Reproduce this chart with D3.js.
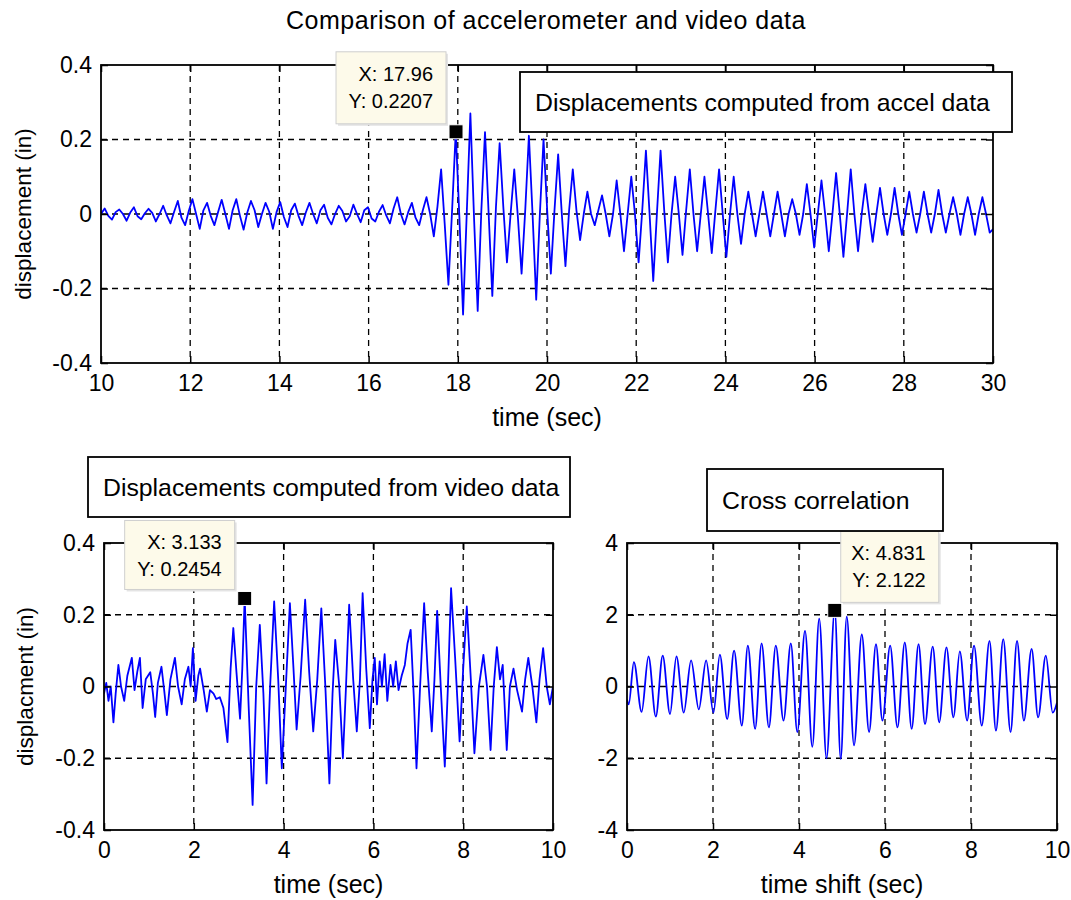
<!DOCTYPE html>
<html>
<head>
<meta charset="utf-8">
<script src="https://cdn.jsdelivr.net/npm/d3@7"></script>
<style>
  body { margin: 0; background: #fff; }
  text { font-family: Arial, "Liberation Sans", sans-serif; fill: #000; }
</style>
</head>
<body>
<svg id="fig" width="1071" height="900"></svg>
<script>
// accelerometer displacement, sampled every quarter cycle starting at t = 10 s
const accelStart = 10;
const accelStep = 0.082;
const accelDisp = [
  0,0.015,-0.005,-0.015, 0.005,0.012,0,-0.018, 0.004,0.018,-0.006,-0.014, 0.002,0.014,0.003,-0.02,
  0,0.022,-0.004,-0.025, 0.006,0.035,-0.01,-0.03, 0.008,0.04,0,-0.04, 0.01,0.03,-0.005,-0.03,
  0.005,0.038,0,-0.04, 0.01,0.04,-0.005,-0.042, 0.004,0.035,0.01,-0.035, 0,0.03,0.006,-0.04,
  0.005,0.032,-0.008,-0.035, 0.01,0.028,-0.005,-0.03, 0.004,0.03,0,-0.025, 0.01,0.025,-0.01,-0.028,
  0,0.022,0.008,-0.02, -0.006,0.025,0,-0.022, 0.01,0.018,-0.012,-0.02, 0.006,0.024,-0.004,-0.025,
  0.015,0.045,0,-0.028, 0.005,0.03,-0.01,-0.03, 0.01,0.045,0,-0.06, 0.02,0.12,-0.03,-0.19,
  0.01,0.2207,-0.01,-0.27, 0,0.27,-0.01,-0.26, 0.01,0.22,0,-0.22, 0.02,0.19,0.02,-0.13,
  0,0.12,-0.01,-0.16, 0.01,0.21,0,-0.23, 0,0.2,0.01,-0.16, 0.01,0.16,0,-0.14,
  0.01,0.12,0.01,-0.07, 0,0.06,0,-0.03, 0.01,0.05,0,-0.06, 0,0.09,0,-0.1,
  0,0.1,0,-0.13, 0.01,0.17,0,-0.18, 0,0.17,0.01,-0.13, 0,0.1,0,-0.11,
  0.01,0.12,0,-0.1, 0,0.1,0,-0.105, 0.01,0.12,0,-0.115, 0,0.1,0,-0.08,
  0,0.06,0,-0.06, 0,0.06,0,-0.06, 0,0.06,0,-0.06, 0,0.04,0,-0.056,
  0,0.08,0,-0.09, 0,0.09,0,-0.1, 0,0.11,0,-0.115, 0,0.12,0,-0.1,
  0,0.08,0,-0.075, 0,0.07,0,-0.056, 0,0.07,0,-0.056, 0,0.06,0,-0.05,
  0,0.06,0,-0.05, 0,0.065,0,-0.05, 0,0.045,0,-0.056, 0,0.045,0,-0.056,
  0,0.045,0,-0.05, -0.04
];

// video displacement
const videoTime = [
  0,0.05,0.1,0.15,0.21,0.26,0.32,0.38,0.45,0.52,0.62,0.68,0.74,0.8,0.86,0.93,1.03,1.09,1.14,1.2,
  1.28,1.34,1.4,1.48,1.58,1.65,1.73,1.8,1.88,1.93,1.98,2.04,2.1,2.14,2.22,2.29,2.36,2.44,2.5,2.58,
  2.66,2.75,2.82,2.88,2.95,3.03,3.08,3.133,3.22,3.31,3.39,3.47,3.55,3.62,3.7,3.79,3.88,3.96,4.05,4.14,
  4.22,4.29,4.38,4.48,4.57,4.66,4.75,4.84,4.93,5.02,5.09,5.15,5.24,5.32,5.39,5.46,5.55,5.63,5.7,5.76,
  5.84,5.92,5.98,6.03,6.08,6.14,6.19,6.25,6.31,6.38,6.44,6.5,6.56,6.63,6.7,6.76,6.83,6.9,6.96,7.04,
  7.13,7.21,7.3,7.36,7.42,7.5,7.59,7.66,7.73,7.82,7.92,8,8.08,8.17,8.25,8.35,8.45,8.53,8.61,8.68,
  8.75,8.82,8.88,8.97,9.04,9.12,9.2,9.31,9.38,9.45,9.54,9.63,9.7,9.78,9.86,9.93,10
];
const videoDisp = [
  -0.02,0.01,-0.04,0,-0.1,-0.02,0.06,0,-0.04,0.03,0.08,-0.01,0.04,0.08,-0.06,0.02,0.04,-0.02,-0.085,0.01,
  0.055,-0.01,-0.08,0.02,0.08,0,-0.05,0.02,0.055,0,0.107,-0.04,0.03,0.05,-0.01,-0.07,-0.01,-0.02,-0.035,-0.03,
  -0.06,-0.155,0.05,0.163,0.04,-0.09,0.05,0.2454,-0.05,-0.33,0,0.172,-0.02,-0.27,0,0.237,0.02,-0.228,0,0.232,
  0.05,-0.12,0.03,0.242,0.04,-0.125,0.02,0.218,0,-0.27,-0.02,0.13,0,-0.2,0,0.228,0.02,-0.125,0.02,0.26,
  0.05,-0.116,0.02,0.08,-0.05,0.07,0,0.09,-0.04,0.06,0,0.07,-0.01,0.03,0.06,0.12,0.158,-0.03,-0.228,0,
  0.232,0.04,-0.125,0.02,0.211,0,-0.223,0,0.274,0.08,-0.153,0.05,0.223,0.02,-0.186,0,0.088,0,-0.177,0,
  0.11,0.02,0.06,-0.177,0,0.05,-0.01,-0.07,0.02,0.08,0,-0.1,0.02,0.107,0,-0.05,0
];

// cross correlation
const corrTime = [
  0,0.04,0.16,0.34,0.5,0.67,0.83,1,1.15,1.32,1.49,1.67,1.84,2.01,2.16,2.33,2.49,2.67,2.81,2.98,
  3.13,3.3,3.46,3.64,3.81,3.96,4.14,4.31,4.47,4.64,4.831,4.97,5.11,5.28,5.46,5.63,5.79,5.94,6.12,6.29,
  6.46,6.62,6.78,6.93,7.11,7.26,7.43,7.59,7.74,7.91,8.07,8.25,8.43,8.58,8.75,8.92,9.07,9.23,9.41,9.56,
  9.74,9.9,10
];
const corrValue = [
  -0.36,-0.5,0.68,-0.71,0.84,-0.84,0.86,-0.77,0.84,-0.73,0.73,-0.64,0.73,-0.73,0.89,-0.91,1,-1.09,1.14,-1.18,
  1.2,-1.14,1.14,-0.95,1.2,-1.27,1.55,-1.68,1.89,-2,2.122,-2.02,1.95,-1.64,1.45,-1.27,1.18,-0.95,1.14,-1.14,
  1.23,-1.18,1.18,-1.05,1.11,-1,1.09,-0.86,0.98,-0.95,1.14,-1.09,1.27,-1.23,1.32,-1.27,1.27,-0.95,1.05,-0.86,
  0.86,-0.73,-0.45
];

const accelTicksX = [10, 12, 14, 16, 18, 20, 22, 24, 26, 28, 30];
const timeTicksX = [0, 2, 4, 6, 8, 10];
const dispTicksY = [-0.4, -0.2, 0, 0.2, 0.4];
const corrTicksY = [-4, -2, 0, 2, 4];

const svg = d3.select("#fig");
const TICK_FS = 23;
const LABEL_FS = 24;

function drawPanel(o) {
  const x = d3.scaleLinear().domain(o.xDomain).range([o.left, o.right]);
  const y = d3.scaleLinear().domain(o.yDomain).range([o.bottom, o.top]);
  const g = svg.append("g");

  g.append("clipPath").attr("id", o.id)
    .append("rect").attr("x", o.left).attr("y", o.top)
    .attr("width", o.right - o.left).attr("height", o.bottom - o.top);

  // dashed grid
  g.append("g").selectAll("line").data(o.xTicks.slice(1, -1)).join("line")
    .attr("x1", d => x(d)).attr("x2", d => x(d))
    .attr("y1", o.top).attr("y2", o.bottom)
    .attr("stroke", "#000").attr("stroke-width", 1.3).attr("stroke-dasharray", "6,5");
  g.append("g").selectAll("line").data(o.yTicks.slice(1, -1)).join("line")
    .attr("x1", o.left).attr("x2", o.right)
    .attr("y1", d => y(d)).attr("y2", d => y(d))
    .attr("stroke", "#000").attr("stroke-width", 1.3).attr("stroke-dasharray", "6,5");

  g.append("path").datum(o.points)
    .attr("clip-path", `url(#${o.id})`)
    .attr("fill", "none").attr("stroke", "#0000ff").attr("stroke-width", 1.8)
    .attr("stroke-linejoin", "round")
    .attr("d", d3.line().x(d => x(d[0])).y(d => y(d[1])).curve(o.curve || d3.curveLinear));

  const fmt = d => String(d);
  const axes = [
    [d3.axisBottom(x).tickFormat(fmt).tickPadding(12), o.bottom, "x"],
    [d3.axisTop(x).tickFormat(""), o.top, "x"],
    [d3.axisLeft(y).tickFormat(fmt).tickPadding(9), o.left, "y"],
    [d3.axisRight(y).tickFormat(""), o.right, "y"]
  ];
  axes.forEach(([ax, pos, dim]) => {
    ax.tickValues(dim === "x" ? o.xTicks : o.yTicks).tickSize(-7);
    const a = g.append("g")
      .attr("transform", dim === "x" ? `translate(0,${pos})` : `translate(${pos},0)`)
      .call(ax);
    a.select(".domain").remove();
    a.selectAll("line").attr("stroke", "#000").attr("stroke-width", 1.5);
    a.selectAll("text").attr("font-size", TICK_FS)
      .attr("font-family", "Arial, 'Liberation Sans', sans-serif").attr("fill", "#000");
  });

  g.append("rect").attr("x", o.left).attr("y", o.top)
    .attr("width", o.right - o.left).attr("height", o.bottom - o.top)
    .attr("fill", "none").attr("stroke", "#000").attr("stroke-width", 1.8);

  g.append("text").attr("x", (o.left + o.right) / 2).attr("y", o.xLabelY)
    .attr("text-anchor", "middle").attr("font-size", LABEL_FS + 1).text(o.xLabel);
  g.append("text")
    .attr("transform", `translate(${o.yLabelX},${(o.top + o.bottom) / 2}) rotate(-90)`)
    .attr("text-anchor", "middle").attr("font-size", 22.5).text(o.yLabel);

  // data tip
  const t = o.tip;
  const mx = x(t.x), my = y(t.y);
  const bx = mx + t.dx, by = my + t.dy;
  g.append("rect").attr("x", bx + 2).attr("y", by + 2).attr("width", t.w).attr("height", t.h)
    .attr("fill", "#e4e4e4");
  g.append("rect").attr("x", bx).attr("y", by).attr("width", t.w).attr("height", t.h)
    .attr("fill", "#fdfaea").attr("stroke", "#cfcfcf").attr("stroke-width", 1);
  g.append("text").attr("x", bx + t.w - 13).attr("y", by + 29).attr("text-anchor", "end")
    .attr("font-size", 20).text("X: " + t.xs);
  g.append("text").attr("x", bx + t.w - 13).attr("y", by + 56).attr("text-anchor", "end")
    .attr("font-size", 20).text("Y: " + t.ys);
  g.append("rect").attr("x", mx - 7).attr("y", my - 7).attr("width", 14).attr("height", 14)
    .attr("fill", "#000").attr("stroke", "#fff").attr("stroke-width", 1);

  // text box annotation
  const b = o.box;
  g.append("rect").attr("x", b.x).attr("y", b.y).attr("width", b.w).attr("height", b.h)
    .attr("fill", "#fff").attr("stroke", "#000").attr("stroke-width", 1.8);
  g.append("text").attr("x", b.x + 15).attr("y", b.y + b.h / 2 + 9)
    .attr("font-size", 24.8).text(b.text);
}

svg.append("text").attr("x", 546).attr("y", 29).attr("text-anchor", "middle")
  .attr("font-size", 25).attr("letter-spacing", 0.5)
  .text("Comparison of accelerometer and video data");

drawPanel({
  id: "c1", left: 101, right: 993, top: 65, bottom: 363,
  xDomain: [10, 30], yDomain: [-0.4, 0.4], xTicks: accelTicksX, yTicks: dispTicksY,
  points: accelDisp.map((v, i) => [accelStart + i * accelStep, v]),
  xLabel: "time (sec)", xLabelY: 426, yLabel: "displacement (in)", yLabelX: 31,
  tip: { x: 17.96, y: 0.2207, xs: "17.96", ys: "0.2207", dx: -120, dy: -80, w: 110, h: 72 },
  box: { x: 520, y: 72, w: 492, h: 60, text: "Displacements computed from accel data" }
});

drawPanel({
  id: "c2", left: 104, right: 553, top: 543, bottom: 830,
  xDomain: [0, 10], yDomain: [-0.4, 0.4], xTicks: timeTicksX, yTicks: dispTicksY,
  points: videoTime.map((t, i) => [t, videoDisp[i]]),
  xLabel: "time (sec)", xLabelY: 893, yLabel: "displacment (in)", yLabelX: 33,
  tip: { x: 3.133, y: 0.2454, xs: "3.133", ys: "0.2454", dx: -120, dy: -78, w: 110, h: 69 },
  box: { x: 88, y: 457, w: 482, h: 60, text: "Displacements computed from video data" }
});

drawPanel({
  id: "c3", left: 627, right: 1057, top: 543, bottom: 830,
  xDomain: [0, 10], yDomain: [-4, 4], xTicks: timeTicksX, yTicks: corrTicksY,
  points: corrTime.map((t, i) => [t, corrValue[i]]), curve: d3.curveMonotoneX,
  xLabel: "time shift (sec)", xLabelY: 893, yLabel: "", yLabelX: 600,
  tip: { x: 4.831, y: 2.122, xs: "4.831", ys: "2.122", dx: 6, dy: -79, w: 98, h: 71 },
  box: { x: 707, y: 469, w: 236, h: 62, text: "Cross correlation" }
});
</script>
</body>
</html>
